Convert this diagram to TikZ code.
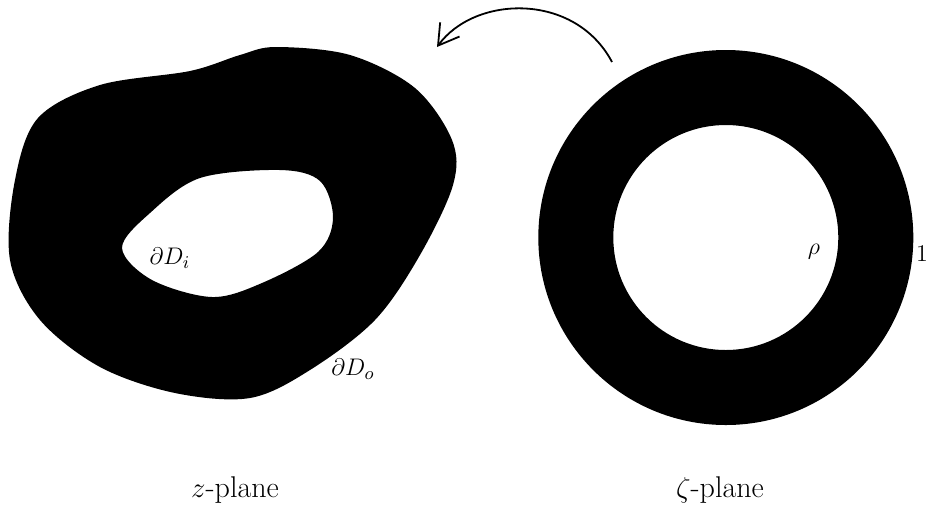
\documentclass[tikz,border=0pt]{standalone}
\usetikzlibrary{arrows.meta}
\begin{document}
\begin{tikzpicture}[x=0.5pt,y=-0.5pt,
  lab/.style={font=\fontsize{12.5}{14}\selectfont, inner sep=0pt},
  captionlab/.style={font=\fontsize{15}{18}\selectfont, inner sep=0pt},
  maparrow/.style={line width=0.9pt, -{Straight Barb[length=10pt,width=12pt,line width=0.9pt]}}]
\useasboundingbox (0,0) rectangle (930,510);
% z-plane doubly connected domain
\fill[black, even odd rule]
  plot[smooth cycle, tension=0.55] coordinates {
    (276,47) (350,55) (415,88) (452,140) (453,185) (420,255) (375,320)
    (310,370) (250,398) (175,393) (100,367) (40,320) (10,260) (15,180)
    (38,118) (100,85) (190,71) (240,55)}
  plot[smooth cycle, tension=0.55] coordinates {
    (122,248) (150,213) (200,178) (280,170) (320,181) (333,218) (318,252)
    (262,283) (212,297) (152,280)};
% zeta-plane annulus
\fill[black, even odd rule] (725.8,237.5) circle[radius=187.5] (725.8,237.5) circle[radius=112.5];
% labels
\node[lab] (di) at (170,258) {$\partial D_i$};
\node[lab] (do) at (353,369) {$\partial D_o$};
\node[lab] (rho) at (814,252) {$\rho$};
\node[lab] (one) at (922,254) {$1$};
\node[captionlab] (zp) at (235,490) {$z$-plane};
\node[captionlab] (zetap) at (720,490) {$\zeta$-plane};
% mapping arrow
\coordinate (as) at (612,62);
\coordinate (ae) at (437,47);
\draw[maparrow] (as) .. controls (575,-8) and (475,-5) .. (ae);
\end{tikzpicture}
\end{document}
